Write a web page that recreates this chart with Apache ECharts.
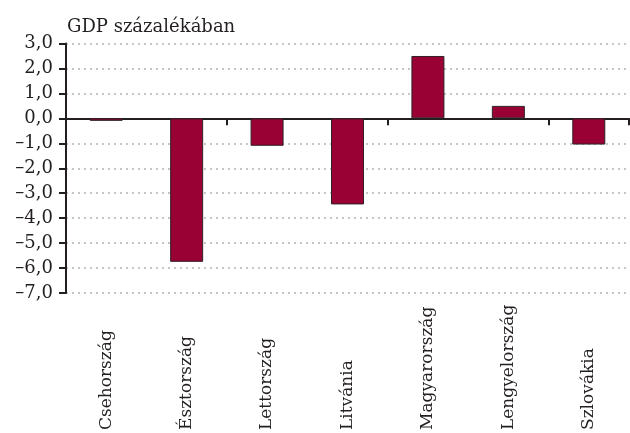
<!DOCTYPE html>
<html>
<head>
<meta charset="utf-8">
<script src="https://cdn.jsdelivr.net/npm/echarts@6/dist/echarts.min.js"></script>
<style>
  html, body { margin: 0; padding: 0; background: #fff; }
  #chart { width: 630px; height: 433px; }
</style>
</head>
<body>
<div id="chart"></div>
<script>
var countries = ["Csehország", "Észtország", "Lettország", "Litvánia", "Magyarország", "Lengyelország", "Szlovákia"];
var gdpValues = [-0.1, -5.75, -1.1, -3.45, 2.5, 0.5, -1.05];
var yMin = -7;
var yMax = 3;
var yStep = 1;

var ink = "#231f20";
var font = "DejaVu Serif";

var chart = echarts.init(document.getElementById("chart"));

function fmt(v) {
  // 1 tizedes, vesszővel, nagykötőjeles mínusz
  var s = Math.abs(v).toFixed(1).replace(".", ",");
  return v < 0 ? "\u2013" + s : s;
}

var option = {
  animation: false,
  title: {
    text: "GDP százalékában",
    left: 62,
    top: 13,
    textStyle: { fontFamily: font, fontSize: 18, fontWeight: "normal", color: ink }
  },
  grid: { left: 66, right: 1, top: 43.5, bottom: 139.5 },
  xAxis: [
    {
      type: "category",
      data: countries,
      axisLine: { onZero: true, lineStyle: { color: ink, width: 2 } },
      axisTick: { show: true, length: 7, lineStyle: { color: ink, width: 2 } },
      axisLabel: { show: false },
      splitLine: { show: false }
    },
    {
      type: "category",
      data: countries,
      position: "bottom",
      offset: 130,
      axisLine: { show: false, onZero: false },
      axisTick: { show: false },
      axisLabel: {
        rotate: 90,
        align: "left",
        margin: 7,
        fontFamily: font,
        fontSize: 17,
        color: ink
      }
    }
  ],
  yAxis: {
    type: "value",
    min: yMin,
    max: yMax,
    interval: yStep,
    axisLine: { show: true, lineStyle: { color: ink, width: 2 } },
    axisTick: { show: true, length: 7, lineStyle: { color: ink, width: 2 } },
    axisLabel: {
      formatter: fmt,
      margin: 13,
      fontFamily: font,
      fontSize: 18,
      color: ink
    },
    splitLine: {
      show: true,
      lineStyle: { color: "#b3b3b3", width: 1.5, type: [2, 4] }
    }
  },
  series: [
    {
      type: "bar",
      xAxisIndex: 0,
      data: gdpValues,
      barWidth: 33,
      itemStyle: { color: "#990033", borderColor: "#2e2226", borderWidth: 1 }
    }
  ]
};

chart.setOption(option);
</script>
</body>
</html>
